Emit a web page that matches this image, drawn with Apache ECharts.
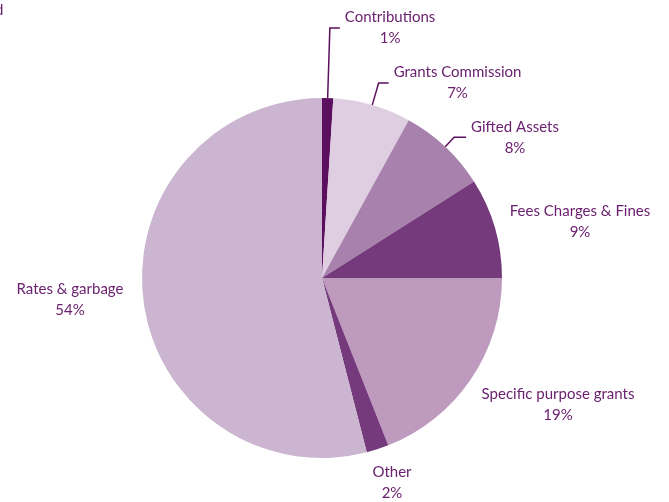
<!DOCTYPE html>
<html>
<head>
<meta charset="utf-8">
<script src="https://cdn.jsdelivr.net/npm/echarts@6/dist/echarts.min.js"></script>
<style>
    html, body {margin: 0; padding: 0; background: #fff;}
    #main {width: 669px; height: 502px;}
</style>
</head>
<body>
<div id="main"></div>
<script>
// revenue sources, percent of total
const categories = ['Contributions', 'Grants Commission', 'Gifted Assets', 'Fees Charges & Fines',
    'Specific purpose grants', 'Other', 'Rates & garbage'];
const values = [1, 7, 8, 9, 19, 2, 54];

const colors = ['#5c0f5e', '#dfcde1', '#a882ad', '#743a7b', '#bd9abe', '#743a7b', '#cbb5d0'];
const TEXT_COLOR = '#6b2170';

// leader line lengths for the labels that have one
const lineLen = [[70, 10], [23, 10], [13, 12], null, null, null, null];
// fixed label centres for the ones without a line
const labelPos = [null, null, null, [580, 222], [558, 405], [392, 483], [70, 300]];

let myChart = echarts.init(document.getElementById('main'));

let pieData = categories.map(function (name, i) {
    let item = {
        name: name,
        value: values[i],
        itemStyle: {color: colors[i]}
    };
    if (lineLen[i]) {
        item.labelLine = {show: true, length: lineLen[i][0], length2: lineLen[i][1]};
    } else {
        item.labelLine = {show: false};
    }
    return item;
});

let option = {
    animation: false,
    textStyle: {fontFamily: 'Lato'},
    graphic: [{
        type: 'text',
        left: -5,
        top: 3,
        style: {text: 'd', fill: TEXT_COLOR, fontSize: 15, fontFamily: 'Lato'}
    }],
    series: [{
        type: 'pie',
        center: [322, 278],
        radius: 180,
        startAngle: 90,
        clockwise: true,
        avoidLabelOverlap: false,
        data: pieData,
        label: {
            show: true,
            position: 'outside',
            distanceToLabelLine: 5,
            formatter: function (p) {
                return '{a|' + p.name + '}\n{a|' + p.value + '%}';
            },
            rich: {
                a: {
                    align: 'center',
                    color: TEXT_COLOR,
                    fontSize: 15,
                    fontFamily: 'Lato',
                    lineHeight: 21
                }
            }
        },
        labelLine: {
            smooth: false,
            lineStyle: {color: '#5c0f5e', width: 1.5}
        },
        labelLayout: function (params) {
            let pos = labelPos[params.dataIndex];
            if (!pos) {
                return {};
            }
            return {x: pos[0], y: pos[1], align: 'center', verticalAlign: 'middle'};
        }
    }]
};

myChart.setOption(option);
</script>
</body>
</html>
